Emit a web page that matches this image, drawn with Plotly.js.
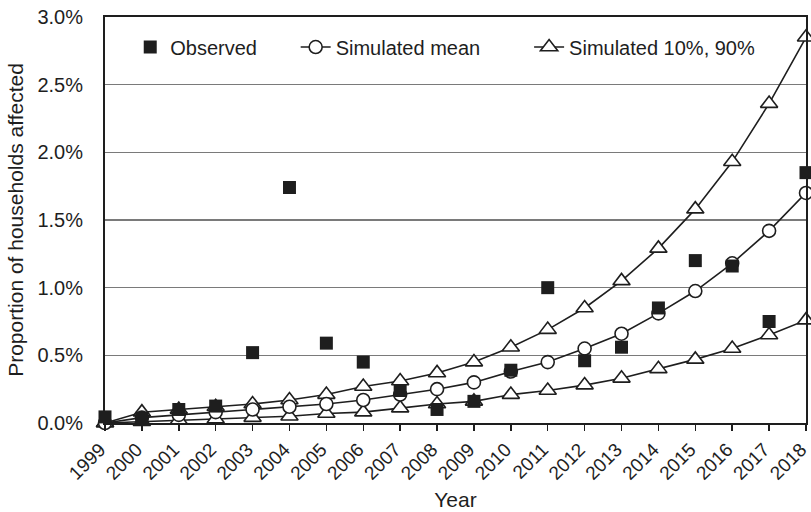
<!DOCTYPE html>
<html>
<head>
<meta charset="utf-8">
<script src="https://cdn.plot.ly/plotly-3.0.1.min.js"></script>
<style>html,body{margin:0;padding:0;background:#fff;}#chart{width:811px;height:512px;}</style>
</head>
<body>
<div id="chart"></div>
<script>
const years = [1999,2000,2001,2002,2003,2004,2005,2006,2007,2008,2009,2010,2011,2012,2013,2014,2015,2016,2017,2018];
const observed = [0.045,0.035,0.10,0.125,0.52,1.74,0.59,0.45,0.24,0.10,0.16,0.39,1.00,0.46,0.56,0.85,1.20,1.16,0.75,1.85];
const simMean  = [0.00,0.04,0.06,0.08,0.10,0.12,0.14,0.17,0.21,0.25,0.30,0.38,0.45,0.55,0.66,0.81,0.975,1.18,1.42,1.70];
const sim90    = [0.00,0.08,0.10,0.12,0.14,0.17,0.21,0.27,0.31,0.37,0.45,0.56,0.69,0.85,1.05,1.29,1.58,1.93,2.36,2.85];
const sim10    = [0.00,0.01,0.02,0.03,0.04,0.05,0.07,0.08,0.11,0.14,0.16,0.21,0.24,0.28,0.33,0.40,0.47,0.55,0.65,0.76];
const yTicks = [0,0.005,0.01,0.015,0.02,0.025,0.03];

const pct = a => a.map(v => v/100);
const INK = '#1e1e1e';
const lineStyle = {color:INK, width:1.6};
const FONT = 'Liberation Sans, Arial, sans-serif';
const FS = 20;

const traces = [
  {x:years, y:pct(sim90), name:'Simulated 10%, 90%', legend:'legend3', mode:'lines+markers',
   line:lineStyle, marker:{symbol:'triangle-up', size:15, color:'#fff', line:{color:INK, width:1.6}}, cliponaxis:false, showlegend:false},
  {x:years, y:pct(sim10), name:'Simulated 10%, 90%', legend:'legend3', mode:'lines+markers',
   line:lineStyle, marker:{symbol:'triangle-up', size:15, color:'#fff', line:{color:INK, width:1.6}}, cliponaxis:false, showlegend:true},
  {x:years, y:pct(simMean), name:'Simulated mean', legend:'legend2', mode:'lines+markers',
   line:lineStyle, marker:{symbol:'circle', size:13, color:'#fff', line:{color:INK, width:1.6}}, cliponaxis:false},
  {x:years, y:pct(observed), name:'Observed', legend:'legend', mode:'markers',
   marker:{symbol:'square', size:13, color:INK, line:{width:0}}, cliponaxis:false}
];

const legBase = {orientation:'h', y:0.926, xanchor:'left', yanchor:'middle',
                 bgcolor:'rgba(0,0,0,0)', font:{size:FS, color:INK, family:FONT}};

const layout = {
  width:811, height:512,
  margin:{l:105, r:5, t:17, b:89},
  paper_bgcolor:'#fff', plot_bgcolor:'#fff',
  font:{family:FONT, size:FS, color:INK},
  showlegend:true,
  legend: Object.assign({}, legBase, {x:0.036}),
  legend2: Object.assign({}, legBase, {x:0.272}),
  legend3: Object.assign({}, legBase, {x:0.605}),
  xaxis:{
    range:[1999,2018.0001], tickmode:'array', tickvals:years, ticktext:years.map(String),
    tickangle:-45, ticks:'outside', ticklen:6, tickwidth:1.5, tickcolor:INK,
    ticklabeloverflow:'allow', ticklabelshift:-5,
    showline:true, linecolor:INK, linewidth:2, mirror:true,
    showgrid:false, zeroline:false,
    tickfont:{size:19, color:INK},
    title:{text:'Year', font:{size:21, color:INK}, standoff:10}
  },
  yaxis:{
    range:[0,0.03], tickmode:'array', tickvals:yTicks, tickformat:'.1%',
    ticks:'', showline:true, linecolor:INK, linewidth:2, mirror:true,
    showgrid:true, gridcolor:'#7a7a7a', gridwidth:1.4, zeroline:false,
    tickfont:{size:FS, color:INK}, ticklabelstandoff:16,
    title:{text:'Proportion of households affected', font:{size:21, color:INK}, standoff:8}
  }
};

Plotly.newPlot('chart', traces, layout, {displayModeBar:false, staticPlot:true});
</script>
</body>
</html>
